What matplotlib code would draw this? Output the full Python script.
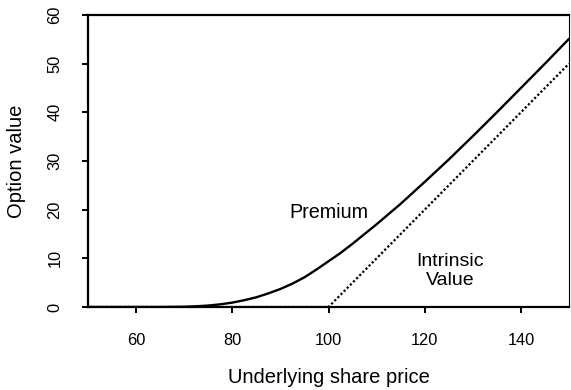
import matplotlib
matplotlib.use("Agg")
import matplotlib.pyplot as plt

plt.rcParams['font.family'] = ['Liberation Sans', 'DejaVu Sans']

# share price grid and option values
share_price = [50, 55, 60, 65, 70, 72.5, 75, 77.5, 80, 82.5, 85, 87.5, 90,
               92.5, 95, 97.5, 100, 102.5, 105, 107.5, 110, 112.5, 115,
               120, 125, 130, 135, 140, 145, 150]
premium = [0.0, 0.0, 0.0, 0.0, 0.05, 0.15, 0.3, 0.55, 0.9, 1.4, 2.0, 2.8, 3.7,
           4.8, 6.1, 7.7, 9.4, 11.1, 13.0, 15.0, 17.0, 19.1, 21.2,
           25.7, 30.3, 35.1, 40.0, 45.0, 50.0, 55.1]

intrinsic_x = [50, 100, 150]
intrinsic_y = [0, 0, 50]

x_ticks = [60, 80, 100, 120, 140]
y_ticks = [0, 10, 20, 30, 40, 50, 60]


def main():
    fig = plt.figure(figsize=(5.71, 3.90), dpi=100)
    ax = fig.add_axes([88 / 571, 83 / 390, 481 / 571, 292 / 390])

    ax.plot(share_price, premium, color='black', lw=1.7,
            solid_capstyle='round', solid_joinstyle='round')
    ax.plot(intrinsic_x, intrinsic_y, color='black', lw=1.6,
            linestyle=(0, (1.0, 1.0)))

    ax.set_xlim(50, 150)
    ax.set_ylim(0, 60)
    ax.set_xticks(x_ticks)
    ax.set_yticks(y_ticks)

    ax.tick_params(axis='both', direction='out', length=4.5, width=1.4,
                   pad=14, labelsize=11.8, colors='black')
    for lab in ax.get_yticklabels():
        lab.set_rotation(90)
        lab.set_va('center')

    for side in ['left', 'bottom', 'top']:
        ax.spines[side].set_linewidth(1.6)
    ax.spines['right'].set_linewidth(0.8)

    ax.set_xlabel('Underlying share price', fontsize=14.5)
    ax.set_ylabel('Option value', fontsize=14.5)
    ax.xaxis.set_label_coords(0.5, -0.243)
    ax.xaxis.label.set_va('center')
    ax.yaxis.set_label_coords(-0.148, 0.5)
    ax.yaxis.label.set_va('center')

    ax.text(100.1, 19.5, 'Premium', fontsize=14.2, ha='center', va='center')
    ax.text(125.3, 7.3, 'Intrinsic\nValue', fontsize=14, ha='center',
            va='center', linespacing=1.15)

    fig.savefig('out.png', dpi=100)


if __name__ == "__main__":
    main()
